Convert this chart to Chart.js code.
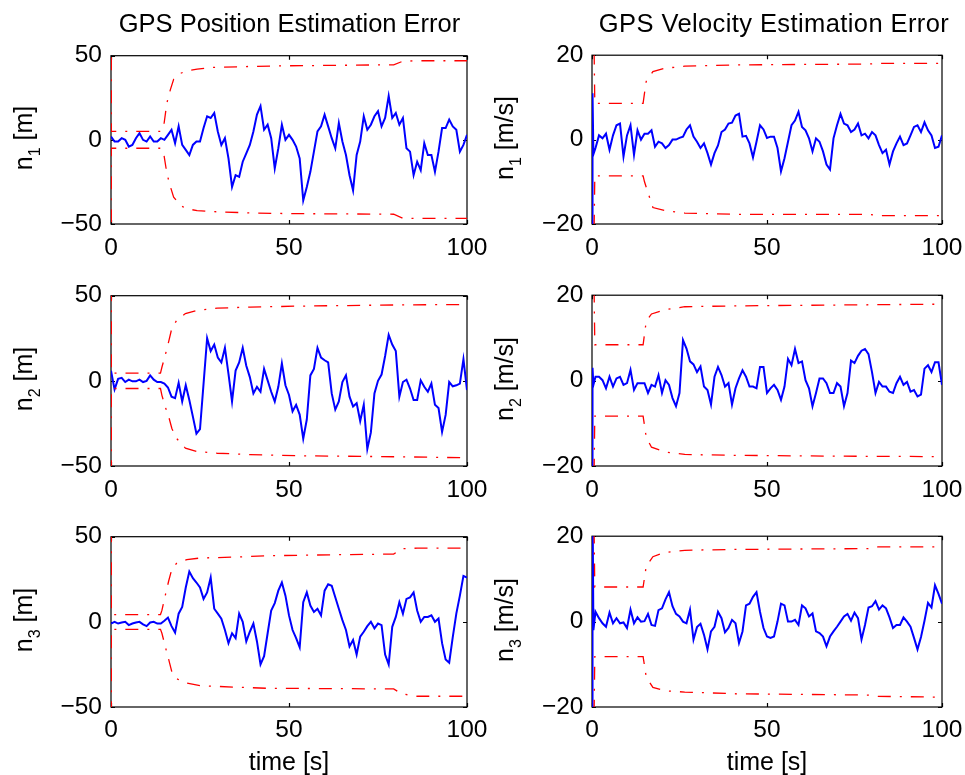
<!DOCTYPE html>
<html><head><meta charset="utf-8">
<script src="https://cdn.jsdelivr.net/npm/chart.js@4/dist/chart.umd.min.js"></script>
<style>
html,body{margin:0;padding:0;background:#fff;}
body{width:965px;height:775px;position:relative;overflow:hidden;font-family:"Liberation Sans",Arial,Helvetica,sans-serif;color:#000;}
canvas.sub{position:absolute;}
.title{position:absolute;font-size:25.5px;line-height:30px;height:30px;width:420px;text-align:center;white-space:nowrap;}
.ylab{position:absolute;font-size:25px;line-height:30px;width:200px;height:30px;text-align:center;white-space:nowrap;transform:rotate(-90deg);}
.ylab sub{font-size:16px;line-height:0;vertical-align:-8px;}
.xlab{position:absolute;font-size:25px;line-height:30px;height:30px;width:200px;text-align:center;white-space:nowrap;}
</style></head>
<body>
<script>
// ---------------- DATA ----------------
const titles = ["GPS Position Estimation Error", "GPS Velocity Estimation Error"];
const xLabel = "time [s]";
const posUnit = "[m]", velUnit = "[m/s]";
const axisNames = ["1", "2", "3"];
const xTicks = [0, 50, 100];
const posTicks = [-50, 0, 50];
const velTicks = [-20, 0, 20];

const tPos = [0,1,2,3,4,5,6,7,8,9,10,11,12,13,14,15,16,17,18,19,20,21,22,23,24,25,26,27,28,29,30,31,32,33,34,35,36,37,38,39,40,41,42,43,44,45,46,47,48,49,50,51,52,53,54,55,56,57,58,59,60,61,62,63,64,65,66,67,68,69,70,71,72,73,74,75,76,77,78,79,80,81,82,83,84,85,86,87,88,89,90,91,92,93,94,95,96,97,98,99,100];
const tVel = [0,0.15,0.4,1,2,3,4,5,6,7,8,9,10,11,12,13,14,15,16,17,18,19,20,21,22,23,24,25,26,27,28,29,30,31,32,33,34,35,36,37,38,39,40,41,42,43,44,45,46,47,48,49,50,51,52,53,54,55,56,57,58,59,60,61,62,63,64,65,66,67,68,69,70,71,72,73,74,75,76,77,78,79,80,81,82,83,84,85,86,87,88,89,90,91,92,93,94,95,96,97,98,99,100];

// position errors n1, n2, n3 [m]
const posN1 = [2,-1,-1,1,0,-4,-3,1,4,0, -1,2,-1,-1,1,0,3,6,-2,8, -3,-6,-9,-3,-1,-1,7,14,13,16, 5,-3,1,-11,-28,-21,-22,-13,-8,-3, 5,15,20,6,9,1,-17,-5,9,0, 3,0,-4,-11,-36,-28,-19,-7,5,8, 15,8,1,-5,10,-1,-9,-21,-30,-9, -1,14,6,9,14,17,8,13,26,13, 16,9,13,-5,-7,-21,-13,-18,-2,-9, -9,-19,-7,7,7,12,8,6,-7,-3, 3];
const posN2 = [6,-5,1.2,1.8,-0.7,0.7,-0.3,-0.3,0.7,-0.7, 0,3.2,0.7,-0.7,-0.7,-1.6,-3.9,-9.3,-10.2,-1.2, -12.1,-2.6,-11.2,-21,-31,-28.4,-1.6,25,17.5,21.3, 13.7,10.8,19.4,4.1,-12.1,6,10.8,19.4,8.9,2.2, -7.4,-3.5,-6.4,7,0.3,-6.4,-12.1,-3.5,10.2,-2.6, -8.3,-17.9,-14.1,-19.8,-34,-22.7,3.2,7,19.4,13.7, 12.1,10.8,-7.4,-16.9,-12.1,-0.7,3.2,-9.3,-15,-13.1, -23.6,-14.1,-40,-30.3,-7.4,0,3.7,14.6,27,21.3, 17.5,-9.3,-0.7,0.7,-4.5,-11.2,-11.2,0.3,-3.5,-6.4, -1.6,-14.1,-16,-30,-20,-0.7,-3.2,-2.6,-1.6,12.7, -5.4];
const posN3 = [-1,0,-1,-0.4,0,-1.9,-1,-0.4,0,-1.5, -2.5,-0.4,0,-1,-1,0.6,2.5,-2.5,-6.3,4.8, 8.7,20.2,29.5,25.6,23.1,20.2,13.5,17.3,26,7.7, 4.8,1.9,-4.8,-12.5,-6.7,-9.6,4.8,0,-11.5,-5.8, -1,-11.5,-25,-20.2,-6.7,6.7,11,18.3,23.1,15.4, 3.8,-4.8,-9.6,-15,11.5,17.3,9.6,5.8,7.7,3.8, 18.3,22.1,21.2,14.4,7.7,1,-4.8,-14.4,-10.6,-19.2, -8.7,-5.8,-2.5,0,-3.8,-1,-1.9,-19.2,-25,-2.9, 2.9,11.5,4.8,13.5,14.4,17.3,6.7,0,2.9,2.9, 3.8,0,1.9,-12.5,-22.1,-24,-9,4.8,15.4,27, 26];

// velocity errors n1, n2, n3 [m/s]
const velN1 = [-25,11,-3.5, -2,1,0.3,1.4,-2.4,1,3.4,3.8,-4,1, 3.4,-3.6,2.2,0,1.4,1.4,2.2,-1.7,-0.5,-0.9, -2,-1.3,0,0,0.4,0.7,2.4,3.4,0.7,-0.5, -2,-0.9,-3.2,-5.9,-3.2,-1.4,1.8,2.4,3.8,4, 5.7,6.1,0.7,0.9,-0.9,-4.2,-0.5,3.4,2.4,0.4, 0.7,0.7,-2,-7.5,-4.4,-0.5,3.4,4.5,6.6,3, 2.2,0.3,-2.8,0.3,-0.5,-2.8,-5.9,-7.1,0.3,3.4, 6.1,3.8,3.4,1.8,2.4,3.8,1,1.4,0.3,1.8, 1,-1.3,-3.2,-2.4,-5.9,-2.8,-0.9,0.7,-1.3,-0.9, 1,3,3.4,1.8,4.1,2.2,1,-2,-1.7,1];
const velN2 = [-25,3,-1, 0.9,0.9,0.1,-1.8,0.9,-1.4,0.5,0.9,-1,-0.6, 2.5,-2.2,-0.6,-0.6,-0.6,-2.9,-1,-1.4,1.3,-2.9, 0.1,-1,-4.1,-6,-2.9,9.5,7.5,4.5,3.8,2, 3.3,-1.4,-2.2,-5.6,0.9,3.2,1.3,-1.4,-0.6,-5.6, -1.8,0.5,2.4,0.9,-1.4,-1.4,-1.8,3.2,3.2,-2.9, -1.8,-1,-2.2,-4.5,-1.4,5.1,3.6,7.4,4.1,4.5, 0.1,-1.8,-6,-2.9,0.5,0.5,-0.6,-2.9,-2.9,-0.6, -1.4,-6,-2.9,4.7,4.1,5.8,7,7.4,6.2,2, -2.9,-0.3,-1.4,-1.4,-2.6,-2.9,-0.6,0.9,-1,-0.3, -2.6,-2.2,-3.7,-3.3,2.8,3.6,2,4.3,4.3,-1];
const velN3 = [-30,30,-2, 2.3,0.8,-0.4,-1.2,2.1,-0.4,0.8,-0.4,-0.2,-1.5, 2.8,-0.4,1,0,0.1,1.8,-0.8,-1,2.7,3.1, 5.2,6.9,3.6,1.8,1.2,0,-0.4,2.8,-4.2,-1.3, -0.5,-3.1,-6.5,-2.3,-1.2,2.3,0.8,-2.5,-1.5,0.4, -0.4,-5,-2.3,3.8,4.2,5.8,6.9,2.3,-1.5,-3.5, -3.8,-3.5,0,4.2,3.8,0,0,0.4,-0.8,3.8, 3.1,1.2,1.9,-2.3,-2.7,-3.5,-5.8,-3.5,-2.3,-1.2, 0,1.2,1.8,0.2,2.1,0.8,-4.2,-0.8,3.3,3.6, 4.8,2.8,3.8,3.1,1,-1.5,-0.8,-0.8,1,0, -1.2,-3.8,-6.5,-3.6,0.2,4.4,3.3,8.5,6.5,4.2];

// 3-sigma bounds (upper / lower) with their own time stamps
const bndPos1T = [0,0.1,14,14.8,15.7,16.7,17.6,19.5,21.3,24.2,28,39,49.4,79.4,81.7,85,100];
const bndPos1U = [500,5,5,8,22,30,36,39.5,41,42,43,43.6,44,44.6,46.5,47,47];
const bndPos1L = [-500,-5,-5,-8,-20,-28,-34,-39,-41,-42,-42.6,-43.4,-43.8,-44.2,-46.3,-46.7,-46.7];

const bndPos2T = [0,0.1,13.9,14.3,15.3,16.2,17.1,18.5,20.9,24.2,29.8,39.1,53.2,81.3,100];
const bndPos2U = [500,4.5,4.5,8,15.6,23,31,35.7,39.5,41.4,42.7,43.3,43.9,44.6,44.8];
const bndPos2L = [-500,-4.5,-4.5,-8.5,-15.6,-21,-28,-34,-39.5,-41.5,-42.5,-43.3,-44,-44.6,-45.2];

const bndPos3T = [0,0.1,13.9,14.3,15.3,16.2,17.1,18.5,21.3,25.1,34.5,43.8,62.5,79.4,81.7,86,100];
const bndPos3U = [500,4.3,4.3,6.7,16,24,31,34.6,36.5,37.5,38,38.8,39.4,39.8,42.9,43.3,43.3];
const bndPos3L = [-500,-4.4,-4.4,-6.7,-15,-22,-29.5,-33.5,-36,-37.5,-38.3,-39,-39.2,-39.4,-42.3,-43.7,-43.7];

const bndVel1T = [0,0.8,14.6,15,15.5,17.4,20.8,26.5,40.8,78.9,81.7,100];
const bndVel1U = [60,8.6,8.6,11,13.8,16.1,16.9,17.4,17.7,17.9,18.05,18.05];
const bndVel1L = [-60,-8.6,-8.6,-10,-11.3,-16.1,-16.8,-17.4,-17.7,-17.7,-18,-18];

const bndVel2T = [0,0.8,14.6,15.5,17,20.8,26.5,40.8,70,100];
const bndVel2U = [60,8.4,8.4,13.9,15.6,16.6,17.3,17.5,17.7,17.9];
const bndVel2L = [-60,-8.3,-8.3,-13.3,-15.6,-16.7,-17.3,-17.5,-17.7,-17.8];

const bndVel3T = [0,0.8,14.6,15.5,17.4,20.8,26.5,40.8,78.9,81.7,100];
const bndVel3U = [60,8.1,8.1,13,15.2,16.2,16.7,16.9,17.1,17.5,17.5];
const bndVel3L = [-60,-8.2,-8.2,-13,-15.4,-16.2,-16.5,-16.9,-17.2,-17.5,-17.7];

// ---------------- LAYOUT ----------------
const colBox = [{l:111, r:467}, {l:592, r:942}];
const rowBox = [{t:52, b:224}, {t:292, b:466}, {t:533, b:707}];
const titleCenter = [289.5, 774];
const titleSpacing = ['0px', '0.4px'];
const xPad = [10, 10, 8.5];
const yPad = [9, 8.5];
const FONT = '"Liberation Sans", Arial, Helvetica, sans-serif';

Chart.defaults.font.family = FONT;
Chart.defaults.color = '#000';

const pts = (ts, vs) => vs.map((v, i) => ({x: ts[i], y: v}));
const fmt = v => (v < 0 ? '\u2212' + Math.abs(v) : String(v));

const boxPlugin = {
  id: 'mbox',
  beforeDatasetsDraw(chart) {
    const {ctx, chartArea: a, scales: {x, y}} = chart;
    ctx.save();
    ctx.strokeStyle = '#000';
    ctx.lineWidth = 1.2;
    ctx.strokeRect(a.left, a.top, a.right - a.left, a.bottom - a.top);
    const L = 4;
    ctx.beginPath();
    x.ticks.forEach(tk => {
      const px = Math.round(x.getPixelForValue(tk.value)) + 0.5;
      ctx.moveTo(px, a.bottom); ctx.lineTo(px, a.bottom - L);
      ctx.moveTo(px, a.top); ctx.lineTo(px, a.top + L);
    });
    y.ticks.forEach(tk => {
      const py = Math.round(y.getPixelForValue(tk.value)) + 0.5;
      ctx.moveTo(a.left, py); ctx.lineTo(a.left + L, py);
      ctx.moveTo(a.right, py); ctx.lineTo(a.right - L, py);
    });
    ctx.stroke();
    ctx.restore();
  }
};

const panels = [
  {row:0, col:0, t:tPos, v:posN1, bt:bndPos1T, bu:bndPos1U, bl:bndPos1L, ticks:posTicks, unit:posUnit},
  {row:0, col:1, t:tVel, v:velN1, bt:bndVel1T, bu:bndVel1U, bl:bndVel1L, ticks:velTicks, unit:velUnit},
  {row:1, col:0, t:tPos, v:posN2, bt:bndPos2T, bu:bndPos2U, bl:bndPos2L, ticks:posTicks, unit:posUnit},
  {row:1, col:1, t:tVel, v:velN2, bt:bndVel2T, bu:bndVel2U, bl:bndVel2L, ticks:velTicks, unit:velUnit},
  {row:2, col:0, t:tPos, v:posN3, bt:bndPos3T, bu:bndPos3U, bl:bndPos3L, ticks:posTicks, unit:posUnit},
  {row:2, col:1, t:tVel, v:velN3, bt:bndVel3T, bu:bndVel3U, bl:bndVel3L, ticks:velTicks, unit:velUnit},
];

const PADL = 100, PADR = 40, PADT = 20, XH = 50;

panels.forEach(p => {
  const cb = colBox[p.col], rb = rowBox[p.row];
  const w = cb.r - cb.l, h = rb.b - rb.t;
  const cv = document.createElement('canvas');
  cv.className = 'sub';
  cv.width = w + PADL + PADR; cv.height = h + PADT + XH;
  cv.style.left = (cb.l - PADL) + 'px';
  cv.style.top = (rb.t - PADT) + 'px';
  cv.style.width = cv.width + 'px'; cv.style.height = cv.height + 'px';
  document.body.appendChild(cv);

  const lim = p.ticks[p.ticks.length - 1];
  const redStyle = {borderColor:'#ff0000', borderWidth:1.3, borderDash:[13,9,2,9], pointRadius:0, tension:0, fill:false, borderCapStyle:'butt'};
  new Chart(cv.getContext('2d'), {
    type: 'line',
    data: {datasets: [
      Object.assign({label:'upper', data: pts(p.bt, p.bu)}, redStyle),
      Object.assign({label:'lower', data: pts(p.bt, p.bl)}, redStyle),
      {label:'error', data: pts(p.t, p.v), borderColor:'#0000ff', borderWidth:2, pointRadius:0, tension:0, fill:false, borderJoinStyle:'miter'}
    ]},
    options: {
      responsive:false, animation:false, devicePixelRatio:1,
      events: [],
      layout: {padding: {left:0, right:PADR, top:PADT, bottom:0}},
      plugins: {legend:{display:false}, tooltip:{enabled:false}, title:{display:false}},
      scales: {
        x: {type:'linear', min:0, max:100,
            grid:{display:false, drawTicks:false}, border:{display:false},
            afterBuildTicks: s => { s.ticks = xTicks.map(v => ({value:v})); },
            afterFit: s => { s.height = XH; },
            ticks:{padding:xPad[p.row], maxRotation:0, autoSkip:false, font:{size:24.5}, callback: v => fmt(v)}},
        y: {type:'linear', min:-lim, max:lim,
            grid:{display:false, drawTicks:false}, border:{display:false},
            afterBuildTicks: s => { s.ticks = p.ticks.map(v => ({value:v})); },
            afterFit: s => { s.width = PADL; },
            ticks:{padding:yPad[p.col], autoSkip:false, font:{size:24.5}, callback: v => fmt(v)}}
      }
    },
    plugins: [boxPlugin]
  });

  // y label with subscript
  const yl = document.createElement('div');
  yl.className = 'ylab';
  const cx = p.col === 0 ? 22.8 : 503.8;
  const cy = (rb.t + rb.b) / 2;
  yl.style.left = (cx - 100) + 'px';
  yl.style.top = (cy - 15) + 'px';
  yl.innerHTML = 'n<sub>' + axisNames[p.row] + '</sub> ' + p.unit;
  document.body.appendChild(yl);
});

// titles and x labels
colBox.forEach((cb, i) => {
  const c = (cb.l + cb.r) / 2;
  const t = document.createElement('div');
  t.className = 'title';
  t.style.left = (titleCenter[i] - 210) + 'px'; t.style.top = '8px';
  t.style.letterSpacing = titleSpacing[i];
  t.textContent = titles[i];
  document.body.appendChild(t);
  const xl = document.createElement('div');
  xl.className = 'xlab';
  xl.style.left = (c - 100) + 'px'; xl.style.top = '746px';
  xl.textContent = xLabel;
  document.body.appendChild(xl);
});
</script>
</body></html>
